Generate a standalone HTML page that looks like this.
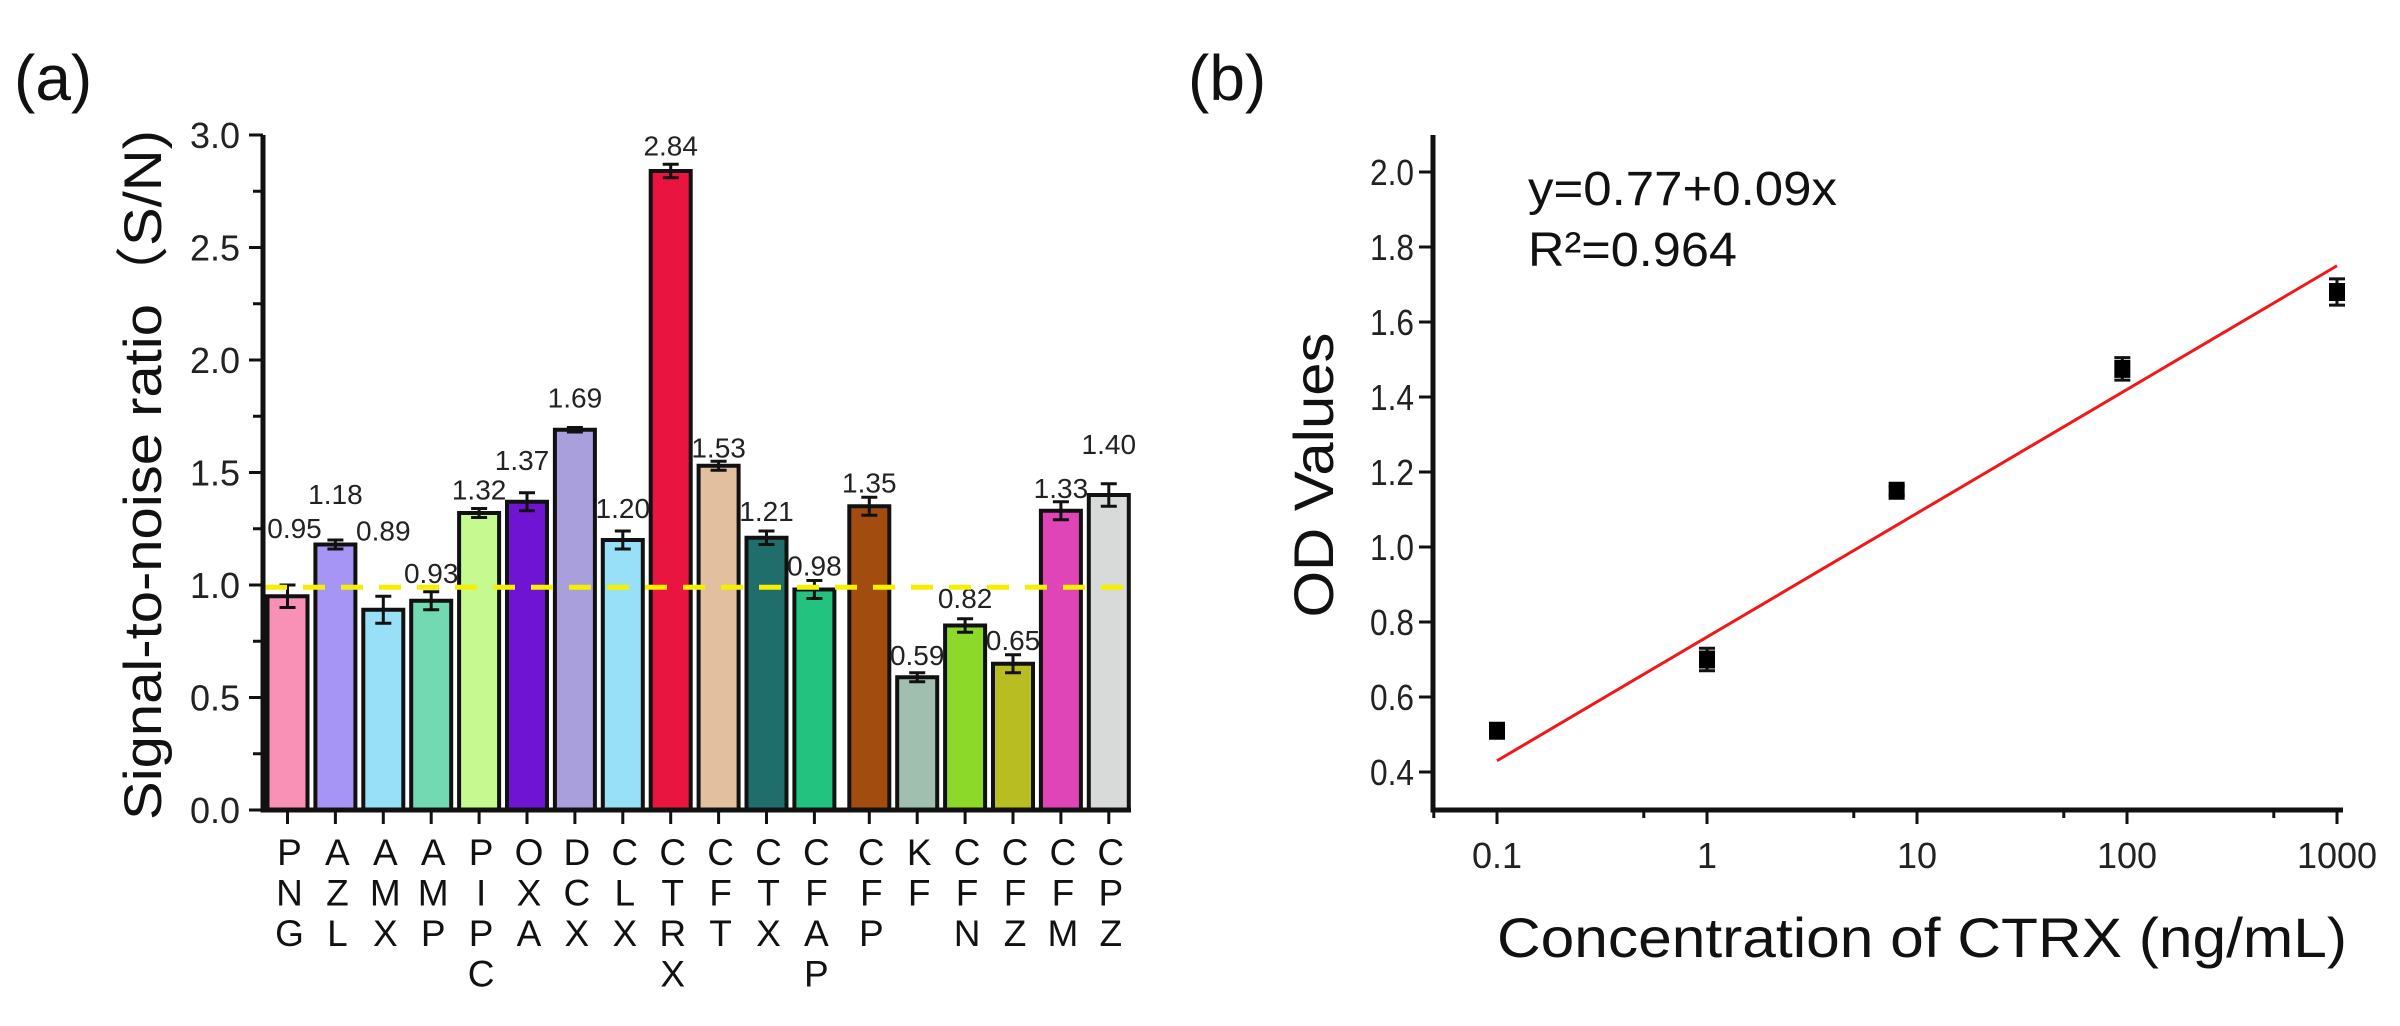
<!DOCTYPE html>
<html><head><meta charset="utf-8"><style>
html,body{margin:0;padding:0;background:#fff;}
svg{display:block;font-family:"Liberation Sans","Noto Sans CJK SC",sans-serif;}
</style></head><body>
<svg id="fig" width="2400" height="1026" viewBox="0 0 2400 1026" xmlns="http://www.w3.org/2000/svg">
<rect width="2400" height="1026" fill="#fff"/>
<g id="pa"></g>
<g id="pb"></g>
</svg>
<script>
// ---- Panel (a) data ----
const categories = ["PNG","AZL","AMX","AMP","PIPC","OXA","DCX","CLX","CTRX","CFT","CTX","CFAP","CFP","KF","CFN","CFZ","CFM","CPZ"];
const snValues = [0.95,1.18,0.89,0.93,1.32,1.37,1.69,1.20,2.84,1.53,1.21,0.98,1.35,0.59,0.82,0.65,1.33,1.40];
const snErrors = [0.05,0.02,0.06,0.04,0.02,0.04,0.01,0.04,0.03,0.02,0.03,0.04,0.04,0.02,0.03,0.04,0.04,0.05];
const snLabels = ["0.95","1.18","0.89","0.93","1.32","1.37","1.69","1.20","2.84","1.53","1.21","0.98","1.35","0.59","0.82","0.65","1.33","1.40"];
const barColors = ["#f891b5","#a695f5","#98dff8","#72d9b3","#c6f98f","#7014d4","#a89fdc","#98dff8","#ea1440","#e2bf9e","#1f6e6c","#22c37f","#a24c10","#a1bfae","#8dd92a","#b8bd22","#e045b8","#d8d9d9"];
const yTicksA = [0,0.5,1.0,1.5,2.0,2.5,3.0];
const yTickLabelsA = ["0.0","0.5","1.0","1.5","2.0","2.5","3.0"];
const thresholdValue = [0.99];
// label layout offsets (px), not data
const labelDy = [-57,-46,-66,-19,-19,-33,-30,-23,-19,-14,-20,-15,-15,-18,-21,-15,-14,-40];
const labelDx = [7,0,0,0,0,-5,0,0,0,0,0,0,0,0,0,0,0,0];

// ---- Panel (b) data ----
const concentrations = [0.1,1,8,95,1000];
const odValues = [0.51,0.70,1.15,1.475,1.68];
const odErrors = [0.012,0.03,0.012,0.03,0.035];
const fitIntercept = [0.76];
const fitSlope = [0.33];
const yTicksB = [0.4,0.6,0.8,1.0,1.2,1.4,1.6,1.8,2.0];
const yTickLabelsB = ["0.4","0.6","0.8","1.0","1.2","1.4","1.6","1.8","2.0"];
const xTicksB = [0.1,1,10,100,1000];
const xTickLabelsB = ["0.1","1","10","100","1000"];
const xMinorB = [0.05,0.5,5,50,500];

const NS="http://www.w3.org/2000/svg";
function mk(tag,attrs,parent,txt){const e=document.createElementNS(NS,tag);for(const k in attrs)e.setAttribute(k,attrs[k]);if(txt!==undefined)e.textContent=txt;parent.appendChild(e);return e;}

// Panel A
const pa=document.getElementById('pa');
const yA=v=>810-225*v;
const xA=i=>287.5+47.9*i+(i>=12?7:0);
const bw=40;
let t;
t=mk('text',{x:14,y:100,'font-size':64,fill:'#111'},pa,'(a)');


categories.forEach((c,i)=>{
  const cx=xA(i), top=yA(snValues[i]);
  const r=mk('rect',{x:cx-bw/2,y:top,width:bw,height:810-top,fill:barColors[i],stroke:'#111','stroke-width':4},pa);
  
  
  const e=mk('path',{d:`M${cx},${yA(snValues[i]+snErrors[i])}V${yA(snValues[i]-snErrors[i])}M${cx-8},${yA(snValues[i]+snErrors[i])}h16M${cx-8},${yA(snValues[i]-snErrors[i])}h16`,stroke:'#111','stroke-width':3,fill:'none'},pa);
  
  
  const l=mk('text',{x:cx+labelDx[i],y:yA(snValues[i]+snErrors[i])+labelDy[i]+10,'font-size':28,'text-anchor':'middle',fill:'#222'},pa,snLabels[i]);
  
  
  const tk=mk('line',{x1:cx,x2:cx,y1:810,y2:824,stroke:'#111','stroke-width':3},pa);
  
  
  const g=mk('text',{x:cx+2,y:865,'font-size':37,'text-anchor':'middle',fill:'#111'},pa);
  
  
  c.split('').forEach((ch,k)=>{mk('tspan',{x:cx+2,y:865+40.5*k},g,ch);});
});
// threshold line
const th=mk('line',{x1:265,x2:1130,y1:yA(thresholdValue[0]),y2:yA(thresholdValue[0]),stroke:'#f5f000','stroke-width':5,'stroke-dasharray':'22,16'},pa);


// axes
const axA=mk('path',{d:'M263,135V810H1131',stroke:'#111','stroke-width':5,fill:'none'},pa);


yTicksA.forEach((v,i)=>{
  const tk=mk('line',{x1:249,x2:263,y1:yA(v),y2:yA(v),stroke:'#111','stroke-width':3},pa);
  
  
  if(i<yTicksA.length-1){const m=mk('line',{x1:253,x2:263,y1:yA(v+0.25),y2:yA(v+0.25),stroke:'#111','stroke-width':3},pa);
  
  }
  const l=mk('text',{x:240,y:yA(v)+13,'font-size':36,'text-anchor':'end',fill:'#222'},pa,yTickLabelsA[i]);
  
  
});
t=mk('text',{x:0,y:0,'font-size':53,'text-anchor':'middle',fill:'#111',transform:'translate(161,475) rotate(-90)',textLength:690,lengthAdjust:'spacingAndGlyphs'},pa,'Signal-to-noise ratio（S/N)');



// Panel B
const pb=document.getElementById('pb');
const yB=v=>772-(v-0.4)*375;
const xB=c=>1497+210*(Math.log10(c)+1);
t=mk('text',{x:1188,y:100,'font-size':64,fill:'#111'},pb,'(b)');


const axB=mk('path',{d:'M1433,135V810H2343',stroke:'#111','stroke-width':5,fill:'none'},pb);


yTicksB.forEach((v,i)=>{
  const tk=mk('line',{x1:1419,x2:1433,y1:yB(v),y2:yB(v),stroke:'#111','stroke-width':3},pb);
  
  
  const l=mk('text',{x:1414,y:yB(v)+13,'font-size':36,'text-anchor':'end',fill:'#222',textLength:44,lengthAdjust:'spacingAndGlyphs'},pb,yTickLabelsB[i]);
  
  
});
xTicksB.forEach((c,i)=>{
  const tk=mk('line',{x1:xB(c),x2:xB(c),y1:810,y2:824,stroke:'#111','stroke-width':3},pb);
  
  
  const l=mk('text',{x:xB(c),y:868,'font-size':36,'text-anchor':'middle',fill:'#222'},pb,xTickLabelsB[i]);
  
  
});
xMinorB.forEach(c=>{
  const m=mk('line',{x1:xB(c),x2:xB(c),y1:810,y2:818,stroke:'#111','stroke-width':3},pb);
  
  
});
// fit line
const fl=mk('line',{x1:xB(0.1),y1:yB(fitIntercept[0]+fitSlope[0]*-1),x2:xB(1000),y2:yB(fitIntercept[0]+fitSlope[0]*3),stroke:'#f01818','stroke-width':3},pb);


concentrations.forEach((c,i)=>{
  const cx=xB(c), cy=yB(odValues[i]);
  const e=mk('path',{d:`M${cx},${yB(odValues[i]+odErrors[i])}V${yB(odValues[i]-odErrors[i])}M${cx-8},${yB(odValues[i]+odErrors[i])}h16M${cx-8},${yB(odValues[i]-odErrors[i])}h16`,stroke:'#111','stroke-width':3,fill:'none'},pb);
  
  
  const p=mk('rect',{x:cx-8,y:cy-9,width:16,height:18,fill:'#000'},pb);
  
  
});
t=mk('text',{x:1528,y:205,'font-size':48,fill:'#111',textLength:309,lengthAdjust:'spacingAndGlyphs'},pb,'y=0.77+0.09x');


t=mk('text',{x:1528,y:266,'font-size':48,fill:'#111',textLength:209,lengthAdjust:'spacingAndGlyphs'},pb,'R²=0.964');


t=mk('text',{x:0,y:0,'font-size':56,'text-anchor':'middle',fill:'#111',transform:'translate(1333,475) rotate(-90)',textLength:285,lengthAdjust:'spacingAndGlyphs'},pb,'OD Values');


t=mk('text',{x:1922,y:957,'font-size':56,'text-anchor':'middle',fill:'#111',textLength:850,lengthAdjust:'spacingAndGlyphs'},pb,'Concentration of CTRX (ng/mL)');


</script>
</body></html>
